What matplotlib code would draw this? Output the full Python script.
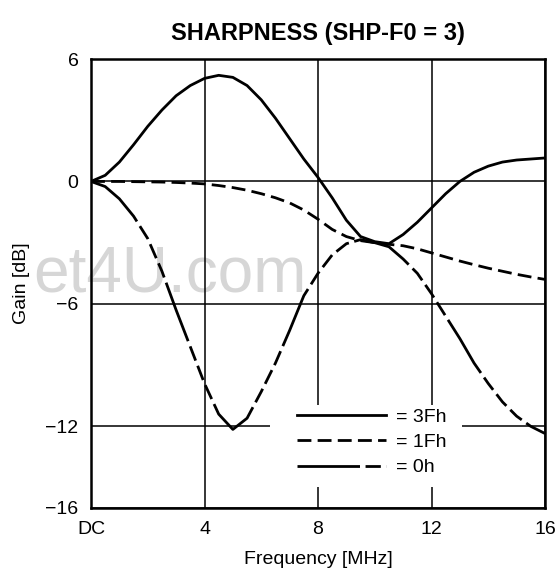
import matplotlib
matplotlib.use("Agg")
import matplotlib.pyplot as plt
from matplotlib.patches import Rectangle

plt.rcParams['font.family'] = ['Liberation Sans', 'DejaVu Sans']
plt.rcParams['lines.scale_dashes'] = False

# frequency points [MHz]
freq = [0, 0.5, 1, 1.5, 2, 2.5, 3, 3.5, 4, 4.5, 5, 5.5, 6, 6.5, 7, 7.5, 8,
        8.5, 9, 9.5, 10, 10.5, 11, 11.5, 12, 12.5, 13, 13.5, 14, 14.5, 15, 15.5, 16]

# gain [dB] for each setting
gain_3fh = [0, 0.3, 0.95, 1.8, 2.7, 3.5, 4.2, 4.7, 5.05, 5.2, 5.1, 4.7, 4.0, 3.1, 2.1, 1.1, 0.2,
            -0.8, -1.9, -2.7, -2.95, -3.05, -2.6, -2.0, -1.3, -0.6, 0.0, 0.45, 0.75, 0.95, 1.05, 1.1, 1.15]
gain_1fh = [0, 0, 0, -0.01, -0.02, -0.03, -0.05, -0.08, -0.12, -0.2, -0.3, -0.43, -0.6, -0.8, -1.05, -1.4, -1.85,
            -2.35, -2.7, -2.9, -3.0, -3.08, -3.15, -3.3, -3.5, -3.7, -3.9, -4.08, -4.25, -4.4, -4.55, -4.68, -4.8]
gain_0h = [0, -0.25, -0.85, -1.7, -2.8, -4.4, -6.3, -8.1, -9.9, -11.4, -12.15, -11.6, -10.3, -8.9, -7.3, -5.6, -4.5,
           -3.6, -3.05, -2.85, -3.0, -3.2, -3.8, -4.5, -5.5, -6.6, -7.7, -8.9, -9.9, -10.8, -11.5, -12.0, -12.35]

x_ticks = [0, 4, 8, 12, 16]
x_labels = ['DC', '4', '8', '12', '16']
y_ticks = [6, 0, -6, -12, -16]
y_labels = ['6', '0', '\u22126', '\u221212', '\u221216']

fig = plt.figure(figsize=(5.59, 5.77), dpi=100, facecolor='white')
ax = fig.add_axes([91/559, 1 - 508/577, 454/559, 449/577])
ax.set_facecolor('none')

# faint watermark behind the chart
fig.text(307/559, 1 - 292/577, 'et4U.com', ha='right', va='baseline',
         fontsize=46, color='#d6d6d6', zorder=-1)

ax.plot(freq, gain_3fh, color='black', lw=2.0, ls='-', label='= 3Fh', zorder=3)
ax.plot(freq, gain_1fh, color='black', lw=2.0, ls=(0, (10, 4.5)), label='= 1Fh', zorder=3)
ax.plot(freq, gain_0h, color='black', lw=2.0, ls=(0, (45, 4, 11, 4, 11, 4, 11, 4)), label='= 0h', zorder=3)

ax.set_xlim(0, 16)
ax.set_ylim(-16, 6)
ax.set_xticks(x_ticks)
ax.set_xticklabels(x_labels)
ax.set_yticks(y_ticks)
ax.set_yticklabels(y_labels)
ax.tick_params(length=0, labelsize=14)
ax.tick_params(axis='x', pad=9)
ax.tick_params(axis='y', pad=9)

ax.set_axisbelow(True)
ax.grid(True, color='black', lw=1.1)
for s in ax.spines.values():
    s.set_linewidth(1.8)

# white box that hides grid under the legend
ax.add_patch(Rectangle((0.394, 0.047), 0.423, 0.182, transform=ax.transAxes,
                       facecolor='white', edgecolor='none', zorder=1))

ax.legend(loc='upper left', bbox_to_anchor=(0.4537, 0.2227), frameon=False,
          fontsize=14, handlelength=4.6, handletextpad=0.5, labelspacing=0.4,
          borderpad=0, borderaxespad=0)

ax.set_title('SHARPNESS (SHP-F0 = 3)', fontsize=17, fontweight='bold', pad=14)
ax.set_xlabel('Frequency [MHz]', fontsize=14)
ax.set_ylabel('Gain [dB]', fontsize=14)
ax.xaxis.set_label_coords(0.5, -0.095)
ax.yaxis.set_label_coords(-0.135, 0.5)

fig.savefig('out.png', dpi=100)
